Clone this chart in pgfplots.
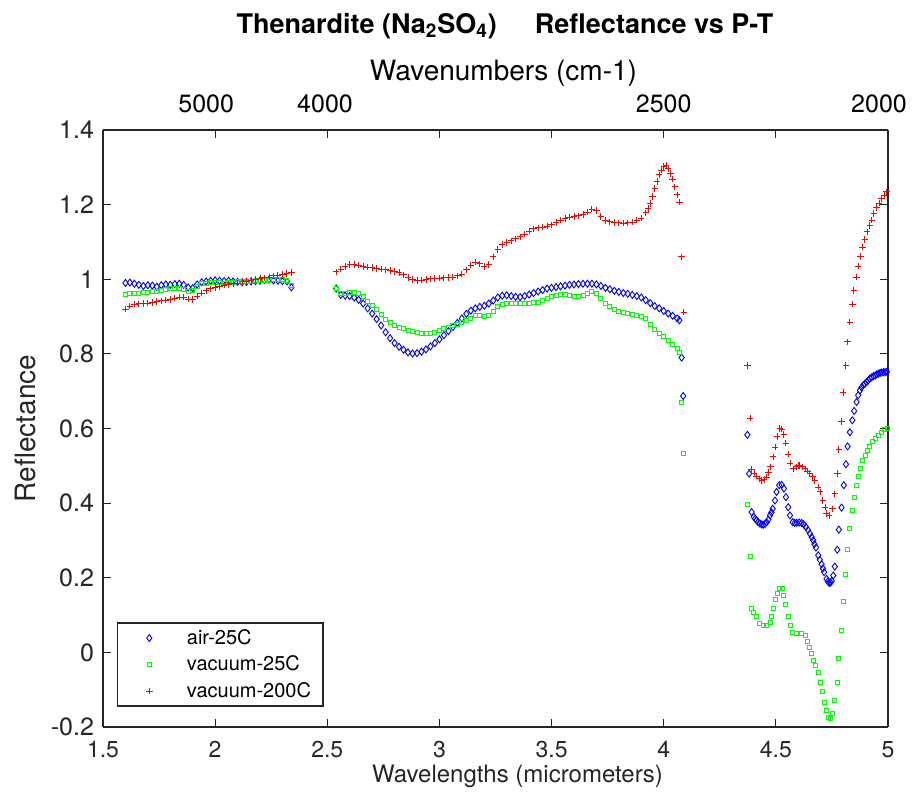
\documentclass[border=0pt]{standalone}
\usepackage{fontspec}
\setmainfont{TeX Gyre Heros}
\usepackage{pgfplots}
\pgfplotsset{compat=1.18}
\definecolor{axgray}{RGB}{38,38,38}
\begin{document}
\begin{tikzpicture}
\useasboundingbox (-51.5pt,-37pt) rectangle (404.5pt,363.5pt);
\pgfplotsset{
  every axis/.append style={
    scale only axis, width=392.5pt, height=298.5pt,
    xmin=1.5, xmax=5, ymin=-0.2, ymax=1.4,
    axis line style={axgray, line width=0.6pt},
    every tick/.style={axgray, line width=0.6pt},
    major tick length=4pt, tick align=inside,
    /pgf/number format/assume math mode=true,
    tick label style={font=\fontsize{11.5}{13}\selectfont, text=axgray},
    label style={font=\fontsize{12}{14}\selectfont, text=axgray},
  }
}
\begin{axis}[
  axis x line*=top, axis y line=none,
  xtick={1.5,2,2.5,3,3.5,4,4.5,5}, xticklabels={},
  extra x ticks={1.96,2.49,4.0,4.96},
  extra x tick labels={5000,4000,2500,2000},
  extra x tick style={major tick length=0pt,
    tick label style={font=\fontsize{12.5}{14}\selectfont, text=black, anchor=center, yshift=13pt}},
  xlabel={Wavenumbers (cm-1)},
  xlabel style={at={(rel axis cs:0.5,1)}, anchor=center, yshift=28.5pt, xshift=4pt,
    font=\fontsize{14}{16}\selectfont, text=black},
  title={Thenardite (Na\textsubscript{2}SO\textsubscript{4})\hspace{19pt}Reflectance vs P-T},
  title style={at={(rel axis cs:0.5,1)}, anchor=center, yshift=46pt, xshift=4.75pt,
    font=\bfseries\fontsize{13.5}{15}\selectfont, text=black},
]
\end{axis}
\begin{axis}[
  axis x line*=bottom, axis y line*=box,
  xtick={1.5,2,2.5,3,3.5,4,4.5,5},
  ytick={-0.2,0,0.2,0.4,0.6,0.8,1,1.2,1.4},
  ytick pos=both, xtick pos=bottom,
  xticklabel style={yshift=-3.5pt},
  yticklabel style={font=\fontsize{12.5}{14}\selectfont, xshift=-1pt},
  xlabel={Wavelengths (micrometers)},
  xlabel style={at={(rel axis cs:0.5,0)}, anchor=center, yshift=-24.5pt, xshift=11pt},
  ylabel={Reflectance},
  ylabel style={at={(axis description cs:-0.0994,0.5)}, anchor=center,
    font=\fontsize{14}{16}\selectfont},
  legend style={at={(0.018,0.034)}, anchor=south west, draw=axgray, line width=0.6pt,
    font=\fontsize{10}{12}\selectfont, row sep=2.3pt, inner xsep=3.5pt, inner ysep=2pt,
    nodes={inner xsep=2.5pt, inner ysep=1pt}, column sep=5pt},
  legend cell align=left,
  legend image code/.code={\path (0pt,-3pt) (23pt,3pt); \draw[#1] plot coordinates {(12pt,0pt)};},
]
\addplot[only marks, mark=diamond, mark size=1.75pt, color=blue, mark options={line width=0.45pt}] table {
1.60 0.990
1.62 0.991
1.64 0.988
1.66 0.985
1.68 0.982
1.70 0.984
1.72 0.983
1.74 0.980
1.76 0.984
1.78 0.986
1.80 0.985
1.82 0.987
1.84 0.988
1.86 0.985
1.88 0.978
1.90 0.976
1.92 0.986
1.94 0.992
1.96 0.994
1.98 0.996
2.00 0.997
2.02 0.996
2.04 0.995
2.06 0.996
2.08 0.994
2.10 0.993
2.12 0.992
2.14 0.993
2.16 0.994
2.18 0.995
2.20 0.996
2.22 0.998
2.24 0.999
2.26 0.997
2.28 0.996
2.30 0.995
2.32 0.994
2.34 0.978
2.54 0.975
2.56 0.958
2.58 0.956
2.60 0.955
2.62 0.951
2.64 0.945
2.66 0.935
2.68 0.922
2.70 0.908
2.72 0.893
2.74 0.876
2.76 0.858
2.78 0.842
2.80 0.829
2.82 0.819
2.84 0.811
2.86 0.804
2.88 0.801
2.90 0.802
2.92 0.806
2.94 0.812
2.96 0.820
2.98 0.829
3.00 0.839
3.02 0.850
3.04 0.861
3.06 0.872
3.08 0.883
3.10 0.895
3.12 0.907
3.14 0.916
3.16 0.922
3.18 0.926
3.20 0.929
3.22 0.935
3.24 0.943
3.26 0.951
3.28 0.956
3.30 0.957
3.32 0.955
3.34 0.953
3.36 0.952
3.38 0.955
3.40 0.959
3.42 0.963
3.44 0.967
3.46 0.971
3.48 0.975
3.50 0.977
3.52 0.979
3.54 0.981
3.56 0.983
3.58 0.985
3.60 0.986
3.62 0.987
3.64 0.988
3.66 0.988
3.68 0.988
3.70 0.986
3.72 0.982
3.74 0.977
3.76 0.973
3.78 0.969
3.80 0.966
3.82 0.963
3.84 0.961
3.86 0.958
3.88 0.955
3.90 0.951
3.92 0.944
3.94 0.936
3.96 0.928
3.98 0.922
4.00 0.915
4.02 0.908
4.04 0.902
4.06 0.895
4.07 0.890
4.080 0.790
4.087 0.687
4.373 0.583
4.381 0.479
4.392 0.376
4.402 0.363
4.408 0.358
4.414 0.354
4.421 0.349
4.429 0.345
4.437 0.343
4.444 0.342
4.452 0.344
4.459 0.349
4.467 0.356
4.474 0.367
4.480 0.375
4.486 0.385
4.496 0.407
4.503 0.430
4.515 0.448
4.526 0.449
4.536 0.439
4.545 0.416
4.555 0.389
4.563 0.367
4.575 0.349
4.584 0.347
4.593 0.347
4.604 0.348
4.615 0.347
4.624 0.343
4.634 0.336
4.643 0.328
4.652 0.318
4.660 0.309
4.667 0.300
4.672 0.290
4.679 0.281
4.689 0.260
4.696 0.248
4.704 0.236
4.710 0.225
4.715 0.215
4.726 0.197
4.732 0.190
4.738 0.186
4.744 0.187
4.749 0.191
4.756 0.206
4.763 0.230
4.774 0.275
4.781 0.329
4.793 0.388
4.803 0.448
4.8125 0.504
4.820 0.552
4.830 0.590
4.841 0.622
4.849 0.647
4.860 0.671
4.867 0.689
4.875 0.702
4.882 0.710
4.890 0.716
4.897 0.720
4.905 0.724
4.912 0.729
4.919 0.734
4.927 0.737
4.935 0.740
4.943 0.742
4.950 0.745
4.957 0.747
4.965 0.749
4.972 0.750
4.980 0.751
4.987 0.751
4.995 0.752
};
\addlegendentry{air-25C}
\addplot[only marks, mark=square, mark size=1pt, color=green, mark options={line width=0.45pt}] table {
1.60 0.960
1.62 0.962
1.64 0.963
1.66 0.963
1.68 0.964
1.70 0.965
1.72 0.967
1.74 0.968
1.76 0.970
1.78 0.972
1.80 0.974
1.82 0.975
1.84 0.975
1.86 0.972
1.88 0.968
1.90 0.970
1.92 0.982
1.94 0.988
1.96 0.990
1.98 0.991
2.00 0.992
2.02 0.991
2.04 0.990
2.06 0.991
2.08 0.992
2.10 0.993
2.12 0.994
2.14 0.995
2.16 0.995
2.18 0.996
2.20 0.997
2.22 0.998
2.24 0.998
2.26 0.999
2.28 0.999
2.30 1.000
2.32 0.998
2.34 0.984
2.54 0.975
2.56 0.963
2.58 0.961
2.60 0.964
2.62 0.965
2.64 0.961
2.66 0.953
2.68 0.941
2.70 0.930
2.72 0.918
2.74 0.905
2.76 0.893
2.78 0.884
2.80 0.877
2.82 0.872
2.84 0.868
2.86 0.864
2.88 0.860
2.90 0.857
2.92 0.855
2.94 0.854
2.96 0.855
2.98 0.858
3.00 0.863
3.02 0.868
3.04 0.871
3.06 0.875
3.08 0.879
3.10 0.883
3.12 0.889
3.14 0.896
3.16 0.902
3.18 0.903
3.20 0.899
3.22 0.902
3.24 0.915
3.26 0.927
3.28 0.933
3.30 0.935
3.32 0.934
3.34 0.934
3.36 0.935
3.38 0.935
3.40 0.936
3.42 0.937
3.44 0.939
3.46 0.943
3.48 0.948
3.50 0.953
3.52 0.957
3.54 0.959
3.56 0.959
3.58 0.957
3.60 0.955
3.62 0.954
3.64 0.956
3.66 0.961
3.68 0.966
3.70 0.962
3.72 0.948
3.74 0.934
3.76 0.926
3.78 0.920
3.80 0.915
3.82 0.911
3.84 0.908
3.86 0.905
3.88 0.902
3.90 0.899
3.92 0.894
3.94 0.880
3.96 0.866
3.98 0.856
4.00 0.847
4.02 0.835
4.04 0.825
4.06 0.814
4.07 0.805
4.080 0.671
4.090 0.533
4.373 0.397
4.385 0.258
4.392 0.117
4.402 0.108
4.414 0.095
4.429 0.077
4.444 0.071
4.459 0.072
4.474 0.081
4.480 0.096
4.488 0.117
4.499 0.141
4.506 0.159
4.518 0.171
4.530 0.171
4.536 0.153
4.545 0.128
4.555 0.096
4.563 0.071
4.575 0.054
4.593 0.050
4.615 0.052
4.630 0.046
4.640 0.028
4.648 0.013
4.659 -0.004
4.667 -0.021
4.677 -0.035
4.689 -0.055
4.697 -0.080
4.708 -0.106
4.716 -0.135
4.727 -0.157
4.735 -0.175
4.745 -0.178
4.754 -0.164
4.763 -0.130
4.774 -0.081
4.781 -0.017
4.793 0.059
4.800 0.137
4.8125 0.208
4.820 0.275
4.830 0.331
4.841 0.379
4.849 0.415
4.860 0.446
4.869 0.472
4.876 0.494
4.888 0.513
4.898 0.528
4.909 0.541
4.919 0.552
4.931 0.564
4.944 0.573
4.958 0.582
4.972 0.590
4.986 0.597
4.998 0.600
};
\addlegendentry{vacuum-25C}
\addplot[only marks, mark=+, mark size=1.6pt, color=red, mark options={line width=0.45pt}] table {
1.60 0.920
1.62 0.928
1.64 0.933
1.66 0.934
1.68 0.935
1.70 0.936
1.72 0.938
1.74 0.940
1.76 0.942
1.78 0.944
1.80 0.946
1.82 0.949
1.84 0.952
1.86 0.952
1.88 0.947
1.90 0.946
1.92 0.955
1.94 0.963
1.96 0.969
1.98 0.974
2.00 0.978
2.02 0.981
2.04 0.984
2.06 0.986
2.08 0.988
2.10 0.990
2.12 0.993
2.14 0.995
2.16 0.997
2.18 0.999
2.20 1.002
2.22 1.004
2.24 1.006
2.26 1.009
2.28 1.011
2.30 1.013
2.32 1.015
2.34 1.018
2.54 1.020
2.56 1.027
2.58 1.034
2.60 1.039
2.62 1.040
2.64 1.038
2.66 1.034
2.68 1.032
2.70 1.031
2.72 1.029
2.74 1.027
2.76 1.025
2.78 1.023
2.80 1.021
2.82 1.018
2.84 1.012
2.86 1.005
2.88 0.999
2.90 0.997
2.92 0.998
2.94 0.999
2.96 1.001
2.98 1.002
3.00 1.003
3.02 1.004
3.04 1.005
3.06 1.006
3.08 1.009
3.10 1.014
3.12 1.025
3.14 1.038
3.16 1.046
3.18 1.041
3.20 1.034
3.22 1.040
3.24 1.060
3.26 1.080
3.28 1.093
3.30 1.098
3.32 1.103
3.34 1.108
3.36 1.114
3.38 1.121
3.40 1.129
3.42 1.135
3.44 1.138
3.46 1.140
3.48 1.142
3.50 1.146
3.52 1.152
3.54 1.158
3.56 1.163
3.58 1.166
3.60 1.168
3.62 1.170
3.64 1.173
3.66 1.180
3.68 1.188
3.70 1.184
3.72 1.168
3.74 1.157
3.76 1.154
3.78 1.152
3.80 1.151
3.82 1.150
3.84 1.151
3.86 1.153
3.88 1.158
3.90 1.164
3.92 1.178
3.93 1.190
3.94 1.203
3.95 1.222
3.96 1.243
3.97 1.262
3.98 1.280
3.99 1.292
4.00 1.302
4.01 1.305
4.02 1.297
4.03 1.283
4.04 1.268
4.05 1.248
4.06 1.226
4.07 1.207
4.08 1.060
4.09 0.912
4.373 0.769
4.385 0.628
4.392 0.490
4.403 0.480
4.414 0.472
4.425 0.465
4.437 0.461
4.448 0.463
4.459 0.470
4.468 0.482
4.477 0.497
4.488 0.524
4.496 0.550
4.506 0.579
4.518 0.600
4.527 0.598
4.536 0.584
4.545 0.561
4.555 0.531
4.563 0.507
4.578 0.492
4.590 0.497
4.600 0.501
4.607 0.501
4.618 0.497
4.630 0.492
4.641 0.486
4.652 0.479
4.663 0.471
4.674 0.461
4.689 0.443
4.697 0.430
4.709 0.407
4.719 0.389
4.726 0.372
4.738 0.367
4.753 0.385
4.763 0.425
4.774 0.479
4.781 0.544
4.793 0.619
4.800 0.696
4.8125 0.769
4.820 0.832
4.830 0.885
4.841 0.933
4.848 0.970
4.860 1.006
4.867 1.035
4.878 1.061
4.887 1.086
4.897 1.106
4.907 1.127
4.919 1.144
4.928 1.158
4.937 1.176
4.949 1.192
4.961 1.204
4.971 1.216
4.982 1.225
4.994 1.234
};
\addlegendentry{vacuum-200C}
\end{axis}
\end{tikzpicture}
\end{document}
